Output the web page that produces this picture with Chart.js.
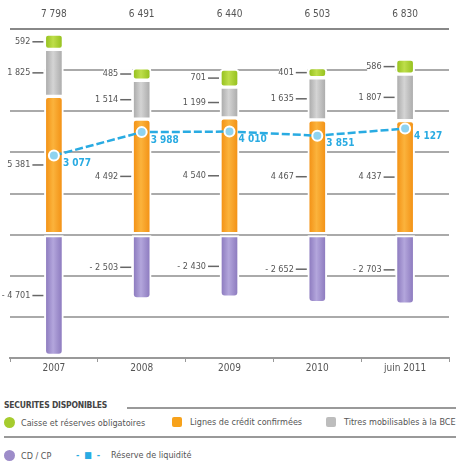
<!DOCTYPE html>
<html>
<head>
<meta charset="utf-8">
<script src="https://cdn.jsdelivr.net/npm/chart.js@4"></script>
<style>
  body { margin: 0; background: #fff; }
  #wrap { position: relative; width: 456px; height: 469px; font-family: "Liberation Sans Narrow", "DejaVu Sans Condensed", sans-serif; color: #555; }
  #chart { position: absolute; left: 0; top: 0; }
  .legend { position: absolute; left: 0; top: 396px; width: 456px; font-size: 9px; }
  .title { position: absolute; left: 4px; top: 4px; font-weight: bold; font-size: 8.5px; color: #444; letter-spacing: -0.2px; }
  .title-line { position: absolute; left: 127px; right: 0; top: 11px; border-top: 2px solid #999; }
  .sep { position: absolute; left: 4px; right: 0; top: 40px; border-top: 2px solid #999; }
  .item { position: absolute; white-space: nowrap; display: flex; align-items: center; }
  .dot { width: 11px; height: 11px; border-radius: 50%; margin-right: 6px; }
  .sq { width: 10px; height: 10px; border-radius: 2px; margin-right: 8px; }
  .dash { color: #29abe2; font-weight: bold; margin-right: 10px; letter-spacing: 1px; }
</style>
</head>
<body>
<div id="wrap">
  <canvas id="chart" width="456" height="374"></canvas>
  <div class="legend">
    <div class="title">SECURITES DISPONIBLES</div>
    <div class="title-line"></div>
    <div class="item" style="left:4px; top:21px"><span class="dot" style="background:#a6cc2e"></span>Caisse et réserves obligatoires</div>
    <div class="item" style="left:172px; top:21px"><span class="sq" style="background:#f7a21b"></span>Lignes de crédit confirmées</div>
    <div class="item" style="left:326px; top:21px"><span class="sq" style="background:#bdbdbd"></span>Titres mobilisables à la BCE</div>
    <div class="sep"></div>
    <div class="item" style="left:4px; top:54px"><span class="dot" style="background:#9d8cc9"></span>CD / CP</div>
    <div class="item" style="left:76px; top:54px"><span class="dash">- ■ -</span>Réserve de liquidité</div>
  </div>
</div>
<script>
// Categories and series
const years = ['2007', '2008', '2009', '2010', 'juin 2011'];
const caisse = [592, 485, 701, 401, 586];
const lignes = [5381, 4492, 4540, 4467, 4437];
const titres = [1825, 1514, 1199, 1635, 1807];
const cdcp = [-4701, -2503, -2430, -2652, -2703];
const reserve = [3077, 3988, 4010, 3851, 4127];
const totals = [7798, 6491, 6440, 6503, 6830];

// French number format: "7 798", "- 4 701"
function fmt(v) {
  const s = Math.abs(v).toString().replace(/\B(?=(\d{3})+(?!\d))/g, ' ');
  return v < 0 ? '- ' + s : s;
}

const FONT = '"Liberation Sans Narrow", "DejaVu Sans Condensed", sans-serif';

// cylinder look: horizontal gradient across each bar
function tube(dark, light) {
  return function(c) {
    const chart = c.chart;
    if (!chart.scales.x || c.dataIndex === undefined) return dark;
    const x = chart.scales.x.getPixelForValue(c.dataIndex);
    if (!isFinite(x)) return dark;
    const g = chart.ctx.createLinearGradient(x - 8, 0, x + 8, 0);
    g.addColorStop(0, dark);
    g.addColorStop(0.45, light);
    g.addColorStop(1, dark);
    return g;
  };
}

// Draw value labels next to the bars, totals on top and reserve values
const labelsPlugin = {
  id: 'labels',
  afterDatasetsDraw(chart) {
    const ctx = chart.ctx;
    ctx.save();
    ctx.font = '9px ' + FONT;
    ctx.textBaseline = 'middle';
    // bar segment labels
    [0, 1, 2, 3].forEach(di => {
      const meta = chart.getDatasetMeta(di);
      meta.data.forEach((bar, i) => {
        const v = chart.data.datasets[di].data[i];
        const left = bar.x - bar.width / 2;
        const y = (bar.y + bar.base) / 2;
        const txt = fmt(v);
        const w = ctx.measureText(txt).width;
        const tx = left - 11;
        ctx.fillStyle = '#fff';
        ctx.fillRect(tx - w - 2, y - 5, w + 13, 10);
        ctx.strokeStyle = '#666';
        ctx.lineWidth = 1.5;
        ctx.beginPath();
        ctx.moveTo(tx - 1, y);
        ctx.lineTo(left - 1, y);
        ctx.stroke();
        ctx.fillStyle = '#555';
        ctx.textAlign = 'right';
        ctx.fillText(txt, tx - 3, y);
      });
    });
    // totals on top
    const meta0 = chart.getDatasetMeta(0);
    ctx.font = '10px ' + FONT;
    ctx.textAlign = 'center';
    ctx.fillStyle = '#555';
    meta0.data.forEach((bar, i) => {
      ctx.fillText(fmt(totals[i]), bar.x, 14);
    });
    ctx.restore();
  },
  afterDraw(chart) {
    const ctx = chart.ctx;
    const meta = chart.getDatasetMeta(4);
    ctx.save();
    ctx.font = 'bold 10px ' + FONT;
    ctx.fillStyle = '#29abe2';
    ctx.textAlign = 'left';
    ctx.textBaseline = 'middle';
    meta.data.forEach((pt, i) => {
      ctx.fillText(fmt(reserve[i]), pt.x + 9, pt.y + 8);
    });
    ctx.restore();
  }
};

const ctx = document.getElementById('chart').getContext('2d');
const barCommon = {
  type: 'bar',
  stack: 'secu',
  borderColor: '#fff',
  borderWidth: 2,
  borderSkipped: false,
  barThickness: 19,
  order: 1
};

new Chart(ctx, {
  data: {
    labels: years,
    datasets: [
      Object.assign({}, barCommon, {
        label: 'Lignes de crédit confirmées',
        data: lignes,
        backgroundColor: tube('#f39216', '#fbb33c'),
        borderRadius: { topLeft: 4, topRight: 4, bottomLeft: 0, bottomRight: 0 }
      }),
      Object.assign({}, barCommon, {
        label: 'Titres mobilisables à la BCE',
        data: titres,
        backgroundColor: tube('#acacac', '#d4d4d4'),
        borderRadius: 4
      }),
      Object.assign({}, barCommon, {
        label: 'Caisse et réserves obligatoires',
        data: caisse,
        backgroundColor: tube('#96c11f', '#bede4a'),
        borderRadius: 4
      }),
      Object.assign({}, barCommon, {
        label: 'CD / CP',
        data: cdcp,
        backgroundColor: tube('#8d7bbf', '#b3a6dc'),
        borderRadius: { topLeft: 0, topRight: 0, bottomLeft: 5, bottomRight: 5 }
      }),
      {
        type: 'line',
        label: 'Réserve de liquidité',
        data: reserve,
        stack: 'reserve',
        borderColor: '#29abe2',
        borderWidth: 2.5,
        borderDash: [8, 3],
        pointRadius: 5,
        pointBackgroundColor: '#8fd3f0',
        pointBorderColor: '#fff',
        pointBorderWidth: 2,
        order: 0
      }
    ]
  },
  options: {
    responsive: false,
    animation: false,
    layout: { padding: { left: 10, right: 0, top: 29, bottom: 0 } },
    plugins: { legend: { display: false }, tooltip: { enabled: false } },
    scales: {
      x: {
        stacked: true,
        offset: true,
        grid: { display: true, drawOnChartArea: false, offset: true, tickLength: 4, color: '#999' },
        border: { display: true, color: '#999', width: 2 },
        ticks: { color: '#555', font: { family: FONT, size: 10 }, padding: 0 }
      },
      y: {
        stacked: true,
        min: -4800,
        max: 8000,
        ticks: { display: false, stepSize: 1600 },
        grid: {
          color: ctx => ctx.tick.value === 8000 ? '#888' : '#aaa',
          lineWidth: 2,
          drawTicks: false
        },
        border: { display: false }
      }
    }
  },
  plugins: [labelsPlugin]
});
</script>
</body>
</html>
